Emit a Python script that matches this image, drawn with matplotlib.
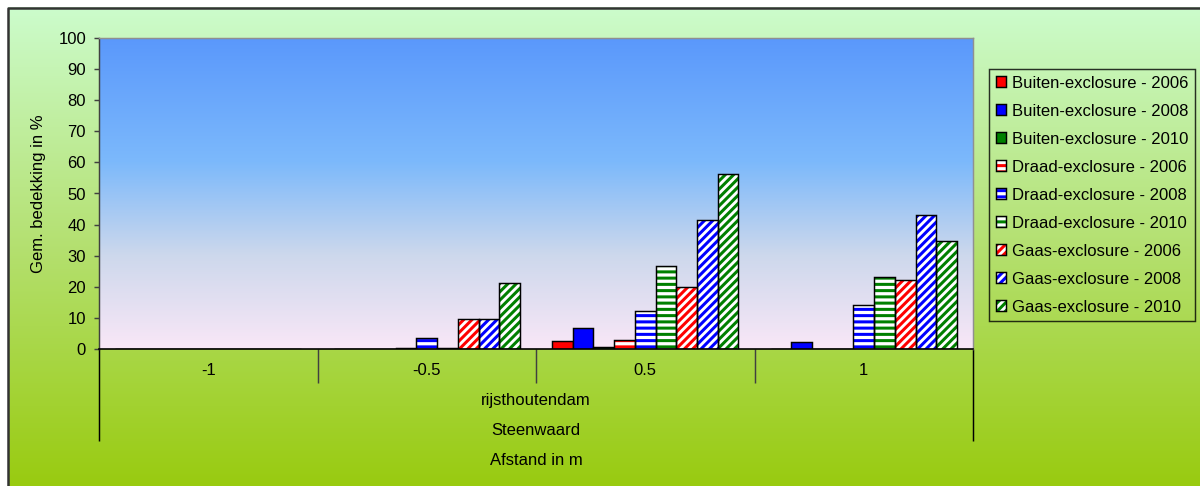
import numpy as np
import matplotlib.pyplot as plt
from matplotlib.colors import LinearSegmentedColormap
from matplotlib.patches import Patch

plt.rcParams['font.family'] = ['Liberation Sans', 'DejaVu Sans']
plt.rcParams['hatch.linewidth'] = 1.45

# data
afstand = ['-1', '-0.5', '0.5', '1']
series = ['Buiten-exclosure - 2006', 'Buiten-exclosure - 2008', 'Buiten-exclosure - 2010',
          'Draad-exclosure - 2006', 'Draad-exclosure - 2008', 'Draad-exclosure - 2010',
          'Gaas-exclosure - 2006', 'Gaas-exclosure - 2008', 'Gaas-exclosure - 2010']
buiten_2006 = [0, 0, 2.7, 0]
buiten_2008 = [0, 0, 6.6, 2.2]
buiten_2010 = [0, 0, 0.8, 0]
draad_2006 = [0, 0.3, 2.9, 0]
draad_2008 = [0, 3.6, 12.3, 14.2]
draad_2010 = [0, 0.3, 26.7, 23.1]
gaas_2006 = [0, 9.8, 20.0, 22.2]
gaas_2008 = [0, 9.8, 41.5, 43.2]
gaas_2010 = [0, 21.3, 56.3, 34.7]
values = [buiten_2006, buiten_2008, buiten_2010, draad_2006, draad_2008, draad_2010,
          gaas_2006, gaas_2008, gaas_2010]

colors = ['#ff0000', '#0000ff', '#008000'] * 3
hatches = [None] * 3 + ['----'] * 3 + ['//////'] * 3

W, H, DPI = 1200, 486, 150
fig = plt.figure(figsize=(W / DPI, H / DPI), dpi=DPI, facecolor='white')

# figure background gradient
bg = fig.add_axes([0, 0, 1, 1], zorder=-10)
bg.set_xlim(0, 1)
bg.set_ylim(0, 1)
bg.axis('off')
fig_cmap = LinearSegmentedColormap.from_list('figbg', ['#99cb10', '#b4e070', '#ccfccc'])
grad = np.linspace(0, 1, 256).reshape(-1, 1)
bg.imshow(grad, cmap=fig_cmap, origin='lower', aspect='auto',
          extent=[8 / W, 1, 0, 1 - 8 / H])
bg.plot([8 / W, 8 / W, 1], [0, 1 - 8 / H, 1 - 8 / H], color='#333333', lw=1.2)

# plot area
ax = fig.add_axes([99 / W, (H - 349) / H, (973 - 99) / W, (349 - 38) / H])
ax_cmap = LinearSegmentedColormap.from_list(
    'axbg', [(0, '#f9e7f7'), (0.3, '#cdd8ec'), (0.6, '#7cb9fb'), (1, '#5a98fc')])
ax.imshow(grad, cmap=ax_cmap, origin='lower', aspect='auto',
          extent=[0, 1, 0, 1], transform=ax.transAxes, zorder=0)

x = np.arange(len(afstand))
w = 1 / (9 + 1.55)
handles = []
for i, (vals, name) in enumerate(zip(values, series)):
    pos = x + (i - 4) * w
    if hatches[i] is None:
        ax.bar(pos, vals, w, color=colors[i], edgecolor='black', lw=0.7, zorder=2)
        handles.append(Patch(facecolor=colors[i], edgecolor='black', lw=0.7))
    else:
        ax.bar(pos, vals, w, color='white', edgecolor=colors[i], hatch=hatches[i], lw=0, zorder=2)
        ax.bar(pos, vals, w, color='none', edgecolor='black', lw=0.7, zorder=3)
        handles.append((Patch(facecolor='white', edgecolor=colors[i], hatch=hatches[i], lw=0),
                        Patch(facecolor='none', edgecolor='black', lw=0.7)))

ax.set_xlim(-0.5, len(afstand) - 0.5)
ax.set_ylim(0, 100)
ax.set_yticks(range(0, 101, 10))
ax.set_xticks(x)
ax.set_xticklabels(afstand)
ax.tick_params(axis='y', length=2.4, width=0.7, pad=3.8, labelsize=8, color='#404040')
ax.tick_params(axis='x', length=0, pad=6.5, labelsize=8)
ax.spines['left'].set_color('#404040')
ax.spines['left'].set_linewidth(0.7)
ax.spines['bottom'].set_color('black')
ax.spines['bottom'].set_linewidth(0.8)
for s in ['top', 'right']:
    ax.spines[s].set_color('#909090')
    ax.spines[s].set_linewidth(0.7)

# group separators below the axis
trans = ax.get_xaxis_transform()
ax.vlines(np.arange(0.5, len(afstand) - 1), -34 / 311, 0, transform=trans,
          color='#404040', lw=0.7, clip_on=False)
ax.vlines([-0.5, len(afstand) - 0.5], -92 / 311, 0, transform=trans,
          color='black', lw=0.7, clip_on=False)

ax.set_ylabel('Gem. bedekking in %', fontsize=8)
ax.yaxis.set_label_coords(-0.0606, 0.5)

cx = 536 / W
fig.text(cx, 1 - 400 / H, 'rijsthoutendam', ha='center', va='center', fontsize=8)
fig.text(cx, 1 - 430 / H, 'Steenwaard', ha='center', va='center', fontsize=8)
fig.text(cx, 1 - 460 / H, 'Afstand in m', ha='center', va='center', fontsize=8)

leg = fig.legend(handles, series, loc='upper left', bbox_to_anchor=(989 / W, 1 - 69 / H),
                 fontsize=8, handlelength=0.6, handleheight=0.6, handletextpad=0.4,
                 labelspacing=0.78, borderpad=0.4, borderaxespad=0, fancybox=False,
                 facecolor='none', edgecolor='black')
leg.get_frame().set_linewidth(0.7)

fig.savefig('out.png', dpi=DPI)
